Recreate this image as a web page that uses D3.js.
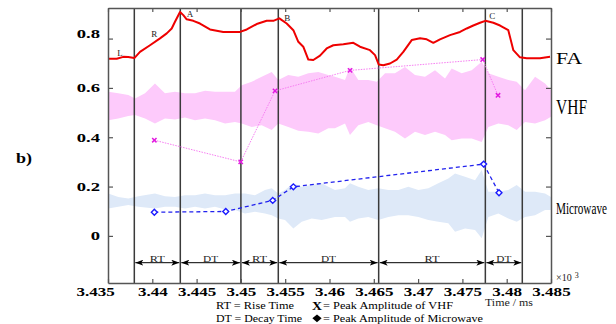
<!DOCTYPE html>
<html>
<head>
<meta charset="utf-8">
<script src="https://cdn.jsdelivr.net/npm/d3@7"></script>
<style>
body { margin: 0; background: #fff; }
text { font-family: "Liberation Serif", "Times New Roman", serif; }
</style>
</head>
<body>
<svg id="chart"></svg>
<script>
// FA trace (time in ms x10^3, amplitude)
var faTime = [3.435, 3.43598, 3.43673, 3.43729, 3.43797, 3.43861, 3.43974, 3.44087, 3.44163, 3.44219, 3.44256, 3.44313, 3.4435, 3.44388, 3.44463, 3.44538, 3.44651, 3.44801, 3.4499, 3.45066, 3.45178, 3.45291, 3.45366, 3.45434, 3.45517, 3.45592, 3.45648, 3.45704, 3.45761, 3.45817, 3.45893, 3.45968, 3.46043, 3.46156, 3.46269, 3.46344, 3.46457, 3.46514, 3.46555, 3.46607, 3.46683, 3.46759, 3.46833, 3.46928, 3.47022, 3.47097, 3.47172, 3.47247, 3.4736, 3.47473, 3.47549, 3.47623, 3.47699, 3.47759, 3.47849, 3.47925, 3.48018, 3.48075, 3.4815, 3.48226, 3.48376, 3.48489];
var faValue = [0.718, 0.718, 0.726, 0.725, 0.721, 0.746, 0.773, 0.801, 0.821, 0.841, 0.868, 0.908, 0.895, 0.878, 0.872, 0.861, 0.837, 0.827, 0.827, 0.837, 0.859, 0.872, 0.872, 0.882, 0.861, 0.834, 0.787, 0.767, 0.715, 0.713, 0.731, 0.760, 0.773, 0.777, 0.783, 0.767, 0.753, 0.733, 0.695, 0.692, 0.699, 0.715, 0.746, 0.794, 0.801, 0.797, 0.783, 0.797, 0.814, 0.827, 0.841, 0.853, 0.864, 0.872, 0.864, 0.853, 0.834, 0.753, 0.724, 0.720, 0.720, 0.726];

// VHF signal envelope
var vhfTime = [3.43503, 3.43616, 3.43729, 3.43805, 3.43918, 3.4403, 3.44143, 3.44256, 3.44369, 3.44482, 3.44595, 3.44708, 3.44821, 3.44933, 3.45009, 3.45122, 3.45235, 3.45348, 3.45422, 3.45535, 3.45648, 3.45761, 3.45874, 3.45987, 3.46062, 3.46175, 3.46231, 3.46325, 3.46438, 3.46533, 3.46627, 3.46739, 3.46852, 3.46965, 3.47078, 3.47191, 3.47304, 3.47379, 3.47492, 3.47605, 3.47718, 3.47793, 3.47906, 3.48018, 3.48113, 3.48207, 3.4832, 3.48433, 3.485];
var vhfHigh = [0.584, 0.578, 0.571, 0.557, 0.578, 0.618, 0.578, 0.584, 0.578, 0.578, 0.588, 0.584, 0.584, 0.584, 0.611, 0.625, 0.645, 0.665, 0.632, 0.652, 0.645, 0.659, 0.665, 0.652, 0.645, 0.632, 0.685, 0.632, 0.632, 0.625, 0.659, 0.659, 0.685, 0.652, 0.645, 0.672, 0.638, 0.679, 0.659, 0.672, 0.706, 0.659, 0.645, 0.632, 0.625, 0.591, 0.645, 0.618, 0.591];
var vhfLow = [0.469, 0.476, 0.486, 0.490, 0.476, 0.456, 0.476, 0.472, 0.480, 0.469, 0.476, 0.469, 0.456, 0.462, 0.456, 0.442, 0.449, 0.429, 0.456, 0.442, 0.426, 0.422, 0.415, 0.436, 0.436, 0.456, 0.409, 0.449, 0.462, 0.449, 0.436, 0.422, 0.395, 0.422, 0.409, 0.422, 0.409, 0.388, 0.395, 0.395, 0.381, 0.442, 0.456, 0.449, 0.429, 0.462, 0.456, 0.469, 0.483];

// Microwave signal envelope
var mwTime = [3.43503, 3.43616, 3.43729, 3.43842, 3.4403, 3.44143, 3.44256, 3.44369, 3.44482, 3.44595, 3.44708, 3.44821, 3.44933, 3.45046, 3.45159, 3.45272, 3.45348, 3.45422, 3.45498, 3.45592, 3.45686, 3.45799, 3.45912, 3.45987, 3.46062, 3.46175, 3.46231, 3.46325, 3.46438, 3.46551, 3.46664, 3.46777, 3.4689, 3.47003, 3.47116, 3.47228, 3.47341, 3.47417, 3.4753, 3.47643, 3.47718, 3.47793, 3.47906, 3.48018, 3.48113, 3.48207, 3.4832, 3.48433, 3.485];
var mwHigh = [0.172, 0.158, 0.152, 0.161, 0.172, 0.161, 0.158, 0.165, 0.165, 0.172, 0.165, 0.165, 0.172, 0.172, 0.165, 0.186, 0.193, 0.172, 0.186, 0.213, 0.199, 0.206, 0.213, 0.199, 0.186, 0.193, 0.213, 0.199, 0.186, 0.193, 0.186, 0.186, 0.199, 0.186, 0.193, 0.213, 0.233, 0.253, 0.240, 0.226, 0.267, 0.179, 0.179, 0.186, 0.206, 0.179, 0.179, 0.172, 0.158];
var mwLow = [0.111, 0.118, 0.125, 0.118, 0.111, 0.118, 0.118, 0.111, 0.118, 0.111, 0.118, 0.107, 0.105, 0.091, 0.098, 0.091, 0.084, 0.071, 0.064, 0.030, 0.057, 0.071, 0.064, 0.071, 0.077, 0.077, 0.057, 0.071, 0.077, 0.064, 0.077, 0.084, 0.084, 0.077, 0.064, 0.057, 0.051, 0.017, 0.030, 0.024, -0.010, 0.077, 0.091, 0.071, 0.057, 0.077, 0.084, 0.105, 0.105];

// peak amplitudes
var vhfPeakTime = [3.44023, 3.44998, 3.45385, 3.46232, 3.47729, 3.47902];
var vhfPeakValue = [0.388, 0.300, 0.588, 0.671, 0.715, 0.570];
var mwPeakTime = [3.44023, 3.44829, 3.45359, 3.45592, 3.4774, 3.47913];
var mwPeakValue = [0.096, 0.099, 0.144, 0.199, 0.291, 0.175];

// phase boundaries and labels
var boundaryTime = [3.43797, 3.44316, 3.45, 3.45422, 3.46555, 3.47759, 3.48176];
var phaseLabels = ["RT", "DT", "RT", "DT", "RT", "DT"];

// letters on FA curve
var pointLetters = ["L", "R", "A", "B", "C"];
var pointTime = [3.43635, 3.44023, 3.44426, 3.45524, 3.47838];
var pointValue = [0.742, 0.821, 0.902, 0.886, 0.891];

var xTicks = [3.435, 3.44, 3.445, 3.45, 3.455, 3.46, 3.465, 3.47, 3.475, 3.48, 3.485];
var yTicks = [0, 0.2, 0.4, 0.6, 0.8];

var W = 616, H = 324;
var margin = {top: 8, right: 65, bottom: 41, left: 108};
var width = W - margin.left - margin.right;
var height = H - margin.top - margin.bottom;

var svg = d3.select("#chart").attr("width", W).attr("height", H);

var defs = svg.append("defs");
defs.append("marker")
    .attr("id", "head")
    .attr("viewBox", "0 0 8 6")
    .attr("refX", 8).attr("refY", 3)
    .attr("markerWidth", 8).attr("markerHeight", 6)
    .attr("markerUnits", "userSpaceOnUse")
    .attr("orient", "auto-start-reverse")
  .append("path")
    .attr("d", "M0,0L8,3L0,6L2,3Z")
    .attr("fill", "#000");

var g = svg.append("g")
    .attr("transform", "translate(" + margin.left + "," + margin.top + ")");

var x = d3.scaleLinear().domain([3.435, 3.485]).range([0, width]);
var y = d3.scaleLinear().domain([-0.191, 0.924]).range([height, 0]);

// noise bands
var band = d3.area()
    .x(function(d) { return x(d[0]); })
    .y0(function(d) { return y(d[2]); })
    .y1(function(d) { return y(d[1]); });

g.append("path")
    .datum(d3.zip(vhfTime, vhfHigh, vhfLow))
    .attr("fill", "#fdcafb")
    .attr("d", band);

g.append("path")
    .datum(d3.zip(mwTime, mwHigh, mwLow))
    .attr("fill", "#dee9f8")
    .attr("d", band);

// vertical phase lines
g.selectAll(".phase")
    .data(boundaryTime)
  .enter().append("line")
    .attr("class", "phase")
    .attr("x1", function(d) { return x(d); })
    .attr("x2", function(d) { return x(d); })
    .attr("y1", 0).attr("y2", height)
    .attr("stroke", "#3a3a3a")
    .attr("stroke-width", 1.5);

var line = d3.line()
    .x(function(d) { return x(d[0]); })
    .y(function(d) { return y(d[1]); });

// VHF peaks
g.append("path")
    .datum(d3.zip(vhfPeakTime, vhfPeakValue))
    .attr("fill", "none")
    .attr("stroke", "#f77ef2")
    .attr("stroke-width", 1)
    .attr("stroke-dasharray", "1.5,1.2")
    .attr("d", line);

// microwave peaks
g.append("path")
    .datum(d3.zip(mwPeakTime, mwPeakValue))
    .attr("fill", "none")
    .attr("stroke", "#2222ee")
    .attr("stroke-width", 1.3)
    .attr("stroke-dasharray", "4,3")
    .attr("d", line);

// FA
g.append("path")
    .datum(d3.zip(faTime, faValue))
    .attr("fill", "none")
    .attr("stroke", "#ee0000")
    .attr("stroke-width", 2)
    .attr("stroke-linejoin", "round")
    .attr("d", line);

g.selectAll(".vhfmark")
    .data(d3.zip(vhfPeakTime, vhfPeakValue))
  .enter().append("path")
    .attr("class", "vhfmark")
    .attr("transform", function(d) { return "translate(" + x(d[0]) + "," + y(d[1]) + ")"; })
    .attr("d", d3.symbol(d3.symbolTimes, 14))
    .attr("fill", "none")
    .attr("stroke", "#e21be0")
    .attr("stroke-width", 1.5);

g.selectAll(".mwmark")
    .data(d3.zip(mwPeakTime, mwPeakValue))
  .enter().append("path")
    .attr("class", "mwmark")
    .attr("transform", function(d) { return "translate(" + x(d[0]) + "," + y(d[1]) + ")"; })
    .attr("d", d3.symbol(d3.symbolDiamond2, 22))
    .attr("fill", "#fff")
    .attr("stroke", "#1a1aff")
    .attr("stroke-width", 1.4);

// letters
g.selectAll(".letter")
    .data(pointLetters)
  .enter().append("text")
    .attr("class", "letter")
    .attr("x", function(d, i) { return x(pointTime[i]); })
    .attr("y", function(d, i) { return y(pointValue[i]); })
    .attr("dy", "0.35em")
    .attr("text-anchor", "middle")
    .style("font-size", "9px")
    .attr("fill", "#222")
    .text(function(d) { return d; });

// RT / DT arrows
var arrowY = 254.7;
var segs = phaseLabels.map(function(d, i) { return [boundaryTime[i], boundaryTime[i + 1], d]; });
g.selectAll(".arrow")
    .data(segs)
  .enter().append("line")
    .attr("class", "arrow")
    .attr("x1", function(d) { return x(d[0]) + 1; })
    .attr("x2", function(d) { return x(d[1]) - 1; })
    .attr("y1", arrowY).attr("y2", arrowY)
    .attr("stroke", "#000")
    .attr("stroke-width", 1)
    .attr("marker-start", "url(#head)")
    .attr("marker-end", "url(#head)");

g.selectAll(".phaselabel")
    .data(segs)
  .enter().append("text")
    .attr("class", "phaselabel")
    .attr("x", function(d) { return (x(d[0]) + x(d[1])) / 2 - 7.5; })
    .attr("y", arrowY - 1)
    .attr("textLength", 15)
    .attr("lengthAdjust", "spacingAndGlyphs")
    .style("font-size", "8.5px")
    .attr("fill", "#222")
    .text(function(d) { return d[2]; });

// axes
var tickFont = function(sel) {
  sel.selectAll("text")
    .style("font-size", "12px")
    .style("font-weight", "bold")
    .style("font-family", "'Liberation Serif', serif")
    .attr("fill", "#000");
};

var xb = g.append("g")
    .attr("transform", "translate(0," + height + ")")
    .call(d3.axisBottom(x).tickValues(xTicks).tickSize(-4).tickSizeOuter(0).tickPadding(4)
      .tickFormat(function(d) { return d3.format("")(+d.toFixed(3)); }));
tickFont(xb);
xb.selectAll("text").attr("transform", "scale(1.42,1)");
xb.selectAll("text").filter(function(d) { return d === 3.435; }).attr("x", -9);

var xt = g.append("g")
    .call(d3.axisTop(x).tickValues(xTicks).tickSize(-4).tickSizeOuter(0).tickFormat(""));

var yl = g.append("g")
    .call(d3.axisLeft(y).tickValues(yTicks).tickSize(-5).tickSizeOuter(0).tickPadding(8)
      .tickFormat(function(d) { return d3.format("")(d); }));
tickFont(yl);
yl.selectAll("text").attr("x", -8 / 1.55).attr("transform", "scale(1.55,1)");
yl.selectAll("text").filter(function(d) { return d === 0.8; }).attr("dy", "-0.05em");

var yr = g.append("g")
    .attr("transform", "translate(" + width + ",0)")
    .call(d3.axisRight(y).tickValues(yTicks).tickSize(-5).tickSizeOuter(0).tickFormat(""));

[xb, xt, yl, yr].forEach(function(a) {
  a.select(".domain").attr("stroke", "#555").attr("stroke-width", 1.5);
  a.selectAll(".tick line").attr("stroke", "#555").attr("stroke-width", 1.2);
});

// side labels
svg.append("text").attr("x", 556).attr("y", 64)
    .attr("textLength", 26).attr("lengthAdjust", "spacingAndGlyphs")
    .style("font-size", "16px").text("FA");
svg.append("text").attr("x", 556).attr("y", 113.5)
    .attr("textLength", 31).attr("lengthAdjust", "spacingAndGlyphs")
    .style("font-size", "20px").text("VHF");
svg.append("text")
    .attr("transform", "translate(556,214) scale(1,1.3)")
    .attr("textLength", 51).attr("lengthAdjust", "spacingAndGlyphs")
    .style("font-size", "13px").text("Microwave");

svg.append("text").attr("x", 16).attr("y", 163)
    .attr("textLength", 16).attr("lengthAdjust", "spacingAndGlyphs")
    .style("font-size", "14px").style("font-weight", "bold").text("b)");

var mult = svg.append("text").attr("x", 556).attr("y", 281)
    .style("font-size", "10px").attr("fill", "#222");
mult.append("tspan").text("×10");
mult.append("tspan").attr("dx", 3).attr("dy", -3).style("font-size", "8px").text("3");

svg.append("text").attr("x", 509).attr("y", 306)
    .attr("text-anchor", "middle")
    .attr("textLength", 48).attr("lengthAdjust", "spacingAndGlyphs")
    .style("font-size", "10px").attr("fill", "#222").text("Time / ms");

// legend
svg.append("text").attr("x", 216).attr("y", 309)
    .attr("textLength", 78).attr("lengthAdjust", "spacingAndGlyphs")
    .style("font-size", "11px").text("RT = Rise Time");
svg.append("text").attr("x", 216).attr("y", 322)
    .attr("textLength", 86).attr("lengthAdjust", "spacingAndGlyphs")
    .style("font-size", "11px").text("DT = Decay Time");
svg.append("text").attr("x", 312).attr("y", 310)
    .attr("textLength", 10).attr("lengthAdjust", "spacingAndGlyphs")
    .style("font-size", "12px").style("font-weight", "bold").text("X");
svg.append("text").attr("x", 323).attr("y", 309)
    .attr("textLength", 130).attr("lengthAdjust", "spacingAndGlyphs")
    .style("font-size", "11px").text("= Peak Amplitude of VHF");
svg.append("path")
    .attr("transform", "translate(317,318.3) scale(1.2,1) rotate(45)")
    .attr("d", d3.symbol(d3.symbolSquare, 30))
    .attr("fill", "#000");
svg.append("text").attr("x", 323).attr("y", 322)
    .attr("textLength", 160).attr("lengthAdjust", "spacingAndGlyphs")
    .style("font-size", "11px").text("= Peak Amplitude of Microwave");
</script>
</body>
</html>
